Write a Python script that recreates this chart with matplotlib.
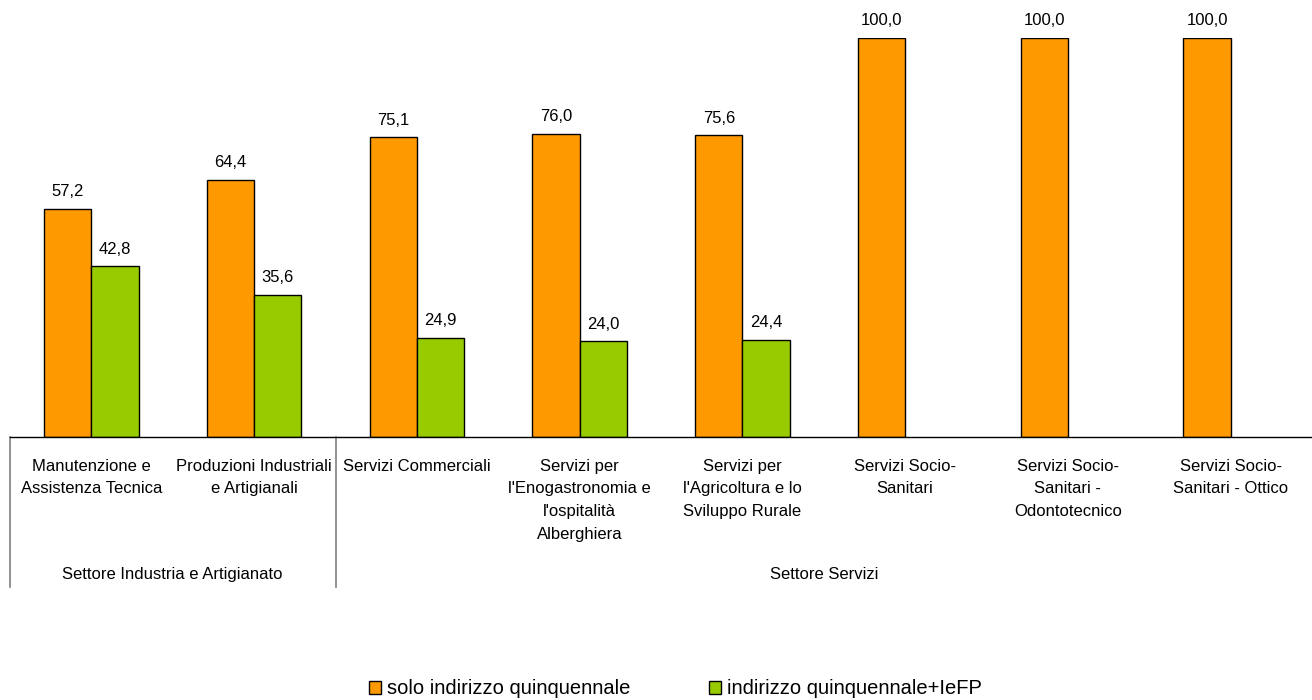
import numpy as np
import matplotlib.pyplot as plt
from matplotlib.patches import Patch

plt.rcParams['font.family'] = ['Liberation Sans', 'DejaVu Sans']

categorie = ["Manutenzione e\nAssistenza Tecnica",
             "Produzioni Industriali\ne Artigianali",
             "Servizi Commerciali",
             "Servizi per\nl'Enogastronomia e\nl'ospitalità\nAlberghiera",
             "Servizi per\nl'Agricoltura e lo\nSviluppo Rurale",
             "Servizi Socio-\nSanitari",
             "Servizi Socio-\nSanitari -\nOdontotecnico",
             "Servizi Socio-\nSanitari - Ottico"]
solo_quinquennale = [57.2, 64.4, 75.1, 76.0, 75.6, 100.0, 100.0, 100.0]
quinquennale_iefp = [42.8, 35.6, 24.9, 24.0, 24.4, None, None, None]
settori = ["Settore Industria e Artigianato", "Settore Servizi"]
settori_n = [2, 6]

ORANGE = '#FF9900'
GREEN = '#99CC00'
w = 0.29

fig = plt.figure(figsize=(13.12, 7), dpi=100)
ax = fig.add_axes([10 / 1312, 1 - 437 / 700, 1 - 10 / 1312, (437 - 38) / 700])

x = np.arange(len(categorie))
b1 = ax.bar(x - w / 2, solo_quinquennale, w, color=ORANGE, edgecolor='black', linewidth=1)
idx = [i for i, v in enumerate(quinquennale_iefp) if v is not None]
vals = [quinquennale_iefp[i] for i in idx]
b2 = ax.bar(x[idx] + w / 2, vals, w, color=GREEN, edgecolor='black', linewidth=1)

fmt = lambda v: f"{v:.1f}".replace('.', ',')
ax.bar_label(b1, labels=[fmt(v) for v in solo_quinquennale], padding=7, fontsize=12)
ax.bar_label(b2, labels=[fmt(v) for v in vals], padding=7, fontsize=12)

ax.set_xlim(-0.5, len(categorie) - 0.5)
ax.set_ylim(0, 100)
for s in ['top', 'right', 'left']:
    ax.spines[s].set_visible(False)
ax.spines['bottom'].set_linewidth(1)
ax.set_yticks([])
ax.set_xticks(x)
ax.set_xticklabels(categorie, fontsize=12, linespacing=1.65, va='top')
ax.tick_params(axis='x', length=0, pad=15.5)

# gruppi di settore sotto l'asse
trans = ax.get_xaxis_transform()
start = -0.5
bordi = [start]
for nome, n in zip(settori, settori_n):
    ax.text(start + n / 2, -0.345, nome, transform=trans, ha='center', va='center', fontsize=12)
    start += n
    bordi.append(start)
for b in bordi[:-1]:
    ax.plot([b, b], [0, -0.375], transform=trans, color='#808080', linewidth=1.2, clip_on=False)

handles = [Patch(facecolor=ORANGE, edgecolor='black', label='solo indirizzo quinquennale'),
           Patch(facecolor=GREEN, edgecolor='black', label='indirizzo quinquennale+IeFP')]
fig.legend(handles=handles, loc='center', bbox_to_anchor=(0.515, 0.016), ncol=2, frameon=False,
           fontsize=14.5, handlelength=0.6, handleheight=0.6, handletextpad=0.3, columnspacing=3.9,
           borderpad=0)

plt.savefig('out.png', dpi=100)
plt.close()
